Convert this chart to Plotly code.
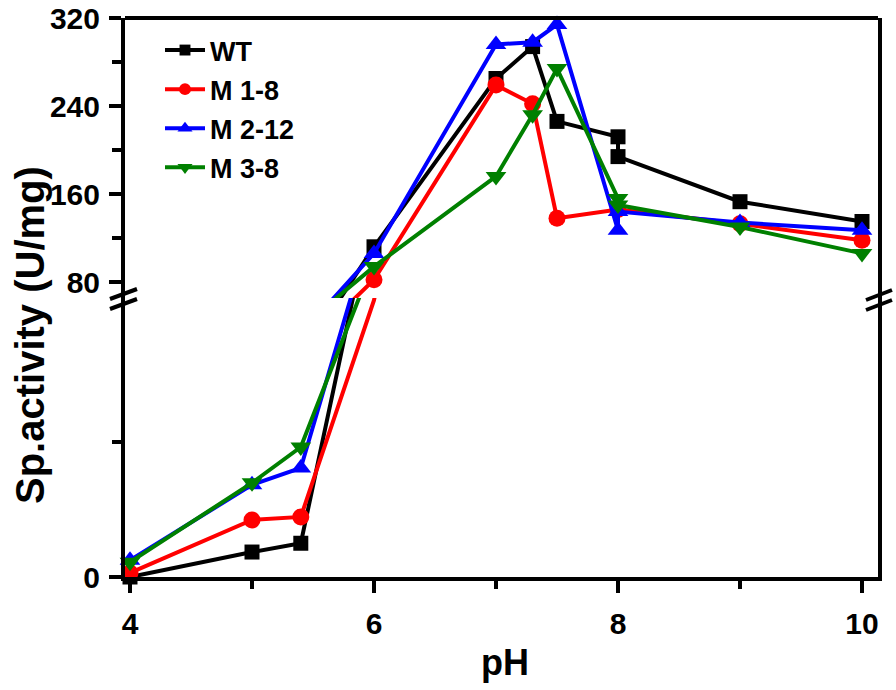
import plotly.graph_objects as go

# ---- data ----
ph_wt = [4, 5, 5.4, 6, 7, 7.3, 7.5, 8, 8, 9, 10]
wt = [0, 7.4, 10, 112, 265, 294, 226, 212, 194, 153, 135]

ph_m18 = [4, 5, 5.4, 6, 7, 7.3, 7.5, 8, 9, 10]
m18 = [1.2, 16.9, 17.8, 82, 259, 242, 138, 146, 133, 118]

ph_m212 = [4, 5, 5.4, 6, 7, 7.3, 7.5, 8, 8, 9, 10]
m212 = [5, 27.3, 32.3, 106, 296, 298, 314, 127, 144, 134, 127]

ph_m38 = [4, 5, 5.4, 6, 7, 7.3, 7.5, 8, 8, 9, 10]
m38 = [4.4, 27.9, 38.5, 94, 176, 232, 274, 156, 150, 130, 106]

series = [
    ("WT", ph_wt, wt, "#000000", "square", 15),
    ("M 1-8", ph_m18, m18, "#ff0000", "circle", 17),
    ("M 2-12", ph_m212, m212, "#0000ff", "triangle-up", 18),
    ("M 3-8", ph_m38, m38, "#008000", "triangle-down", 18),
]

x_ticks = [4, 6, 8, 10]
x_minor = [5, 7, 9]
upper_ticks = [80, 160, 240, 320]
upper_minor = [120, 200, 280]
lower_ticks = [0]
lower_minor = [40]
break_value = 80

FONT = "Liberation Sans, Arial, sans-serif"

fig = go.Figure()
for name, xs, ys, color, sym, msz in series:
    lower_sizes = [msz if v < break_value else 0 for v in ys]
    upper_sizes = [msz if v >= break_value else 0 for v in ys]
    fig.add_trace(go.Scatter(
        x=xs, y=ys, mode="lines+markers", name=name, legendgroup=name,
        showlegend=False, xaxis="x", yaxis="y", cliponaxis=False,
        line=dict(color=color, width=4),
        marker=dict(symbol=sym, size=lower_sizes, color=color, opacity=1, line=dict(width=0)),
    ))
    fig.add_trace(go.Scatter(
        x=xs, y=ys, mode="lines+markers", name=name, legendgroup=name,
        showlegend=True, xaxis="x", yaxis="y2", cliponaxis=False,
        line=dict(color=color, width=4),
        marker=dict(symbol=sym, size=upper_sizes, color=color, opacity=1, line=dict(width=0)),
    ))

W, H = 896, 690
L, R, T, B = 125, 18, 18, 113
pw, ph = W - L - R, H - T - B
X0, Y0 = L, H - B

def px(xp):
    return (xp - X0) / pw

def py(yp):
    return (Y0 - yp) / ph

split = py(298)

axis_common = dict(
    showline=True, linecolor="black", linewidth=4,
    ticks="outside", tickcolor="black", tickwidth=3.5, ticklen=12,
    showgrid=False, zeroline=False, automargin=False,
    tickfont=dict(family=FONT, size=30, color="black", weight="bold"),
)

fig.update_layout(
    width=W, height=H,
    margin=dict(l=L, r=R, t=T, b=B, autoexpand=False),
    paper_bgcolor="white", plot_bgcolor="white",
    font=dict(family=FONT, color="black", weight="bold"),
    xaxis=dict(
        range=[4 - 5 / 122, 4 - 5 / 122 + pw / 122], domain=[0, 1], anchor="y",
        tickvals=x_ticks, ticktext=[str(v) for v in x_ticks],
        minor=dict(tickvals=x_minor, ticklen=8, tickwidth=3.5, tickcolor="black", ticks="outside"),
        ticklabelstandoff=5,
        **axis_common,
    ),
    yaxis=dict(
        domain=[0, split], range=[0, (Y0 - 298) / 3.375], anchor="x",
        tickvals=lower_ticks, ticktext=[str(v) for v in lower_ticks],
        minor=dict(tickvals=lower_minor, ticklen=9, tickwidth=3.5, tickcolor="black", ticks="outside"),
        mirror=True, ticklabelstandoff=3,
        **axis_common,
    ),
    yaxis2=dict(
        domain=[split, 1], range=[320 - (298 - T) / 1.1, 320], anchor="x",
        tickvals=upper_ticks, ticktext=[str(v) for v in upper_ticks],
        minor=dict(tickvals=upper_minor, ticklen=9, tickwidth=3.5, tickcolor="black", ticks="outside"),
        mirror=True, ticklabelstandoff=3,
        **axis_common,
    ),
    legend=dict(
        x=px(160), y=py(26), xanchor="left", yanchor="top",
        bgcolor="rgba(0,0,0,0)", borderwidth=0,
        font=dict(family=FONT, size=27, color="black", weight="bold"),
        tracegroupgap=1, itemwidth=40,
    ),
    annotations=[
        dict(text="Sp.activity (U/mg)", xref="paper", yref="paper",
             x=px(30), y=py(335), xanchor="center", yanchor="middle",
             textangle=-90, showarrow=False,
             font=dict(family=FONT, size=40, color="black", weight="bold")),
        dict(text="pH", xref="paper", yref="paper",
             x=px(505), y=py(663), xanchor="center", yanchor="middle", showarrow=False,
             font=dict(family=FONT, size=36, color="black", weight="bold")),
    ],
    shapes=[
        dict(type="line", xref="paper", yref="paper", x0=0, x1=1, y0=1, y1=1,
             line=dict(color="black", width=4)),
        dict(type="line", xref="paper", yref="paper", x0=px(110), x1=px(137), y0=py(299), y1=py(289),
             line=dict(color="black", width=4)),
        dict(type="line", xref="paper", yref="paper", x0=px(110), x1=px(137), y0=py(309), y1=py(299),
             line=dict(color="black", width=4)),
        dict(type="line", xref="paper", yref="paper", x0=px(866), x1=px(892), y0=py(300), y1=py(290),
             line=dict(color="black", width=4)),
        dict(type="line", xref="paper", yref="paper", x0=px(866), x1=px(892), y0=py(310), y1=py(300),
             line=dict(color="black", width=4)),
    ],
)

fig.write_html(
    "out.html",
    config={"displayModeBar": False},
    post_script="document.body.style.margin='0';document.body.style.overflow='hidden';",
)
